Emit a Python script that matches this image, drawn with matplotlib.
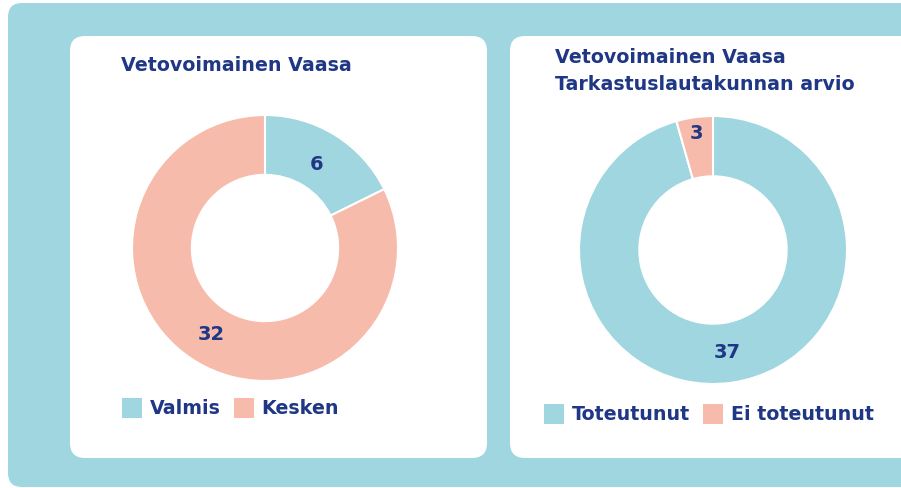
import matplotlib.pyplot as plt
import numpy as np
from matplotlib.patches import FancyBboxPatch, Patch

# data
left_title = "Vetovoimainen Vaasa"
left_labels = ["Valmis", "Kesken"]
left_values = [6, 32]
left_shares = [17.7, 82.3]      # wedge sizes as drawn in the picture (%)

right_title = "Vetovoimainen Vaasa\nTarkastuslautakunnan arvio"
right_labels = ["Toteutunut", "Ei toteutunut"]
right_values = [37, 3]
right_shares = [95.6, 4.4]

BLUE = "#9fd6e0"
PINK = "#f7bbac"
NAVY = "#1f3784"
W, H = 901, 488
FS = 13.7

fig = plt.figure(figsize=(W / 100, H / 100), dpi=100)

# background layer in pixel coords
bg = fig.add_axes([0, 0, 1, 1])
bg.set_xlim(0, W)
bg.set_ylim(H, 0)
bg.axis("off")
bg.add_patch(FancyBboxPatch((8, 3), 920, 484, boxstyle="round,pad=0,rounding_size=14",
                            fc=BLUE, ec="none"))
bg.add_patch(FancyBboxPatch((70, 36), 417, 422, boxstyle="round,pad=0,rounding_size=15",
                            fc="white", ec="none"))
bg.add_patch(FancyBboxPatch((510, 36), 420, 422, boxstyle="round,pad=0,rounding_size=15",
                            fc="white", ec="none"))


def donut(cx, cy, r, shares, values, labels, label_r, title, title_xy, leg_xy):
    ax = fig.add_axes([(cx - r) / W, (H - cy - r) / H, 2 * r / W, 2 * r / H])
    colors = [BLUE, PINK]
    wedges, _ = ax.pie(shares, colors=colors, startangle=90, counterclock=False,
                       radius=1, wedgeprops=dict(width=0.45, edgecolor="white", linewidth=1.5))
    ax.set_xlim(-1, 1)
    ax.set_ylim(-1, 1)
    ax.set_aspect("auto")
    for w, v, d in zip(wedges, values, label_r):
        ang = np.deg2rad((w.theta1 + w.theta2) / 2)
        ax.text(d * np.cos(ang), d * np.sin(ang), str(v), ha="center", va="center",
                fontsize=14, fontweight="bold", color=NAVY)
    bg.text(title_xy[0], title_xy[1], title, ha="left", va="top", fontsize=FS,
            fontweight="bold", color=NAVY, linespacing=1.55)
    # plain squares for the legend (no white wedge edge)
    handles = [Patch(facecolor=c, edgecolor="none") for c in colors]
    fig.legend(handles, labels, loc="upper left", bbox_to_anchor=(leg_xy[0] / W, 1 - leg_xy[1] / H),
               ncol=2, frameon=False, handlelength=1.05, handleheight=1.25,
               handletextpad=0.4, columnspacing=0.7, borderpad=0, borderaxespad=0,
               labelcolor=NAVY, prop=dict(weight="bold", size=FS))


donut(265, 248, 133, left_shares, left_values, left_labels, [0.74, 0.77],
      left_title, (121, 56), (122, 398))
donut(713, 250, 134, right_shares, right_values, right_labels, [0.77, 0.88],
      right_title, (555, 48), (544, 404))

fig.savefig("out.png", dpi=100)
